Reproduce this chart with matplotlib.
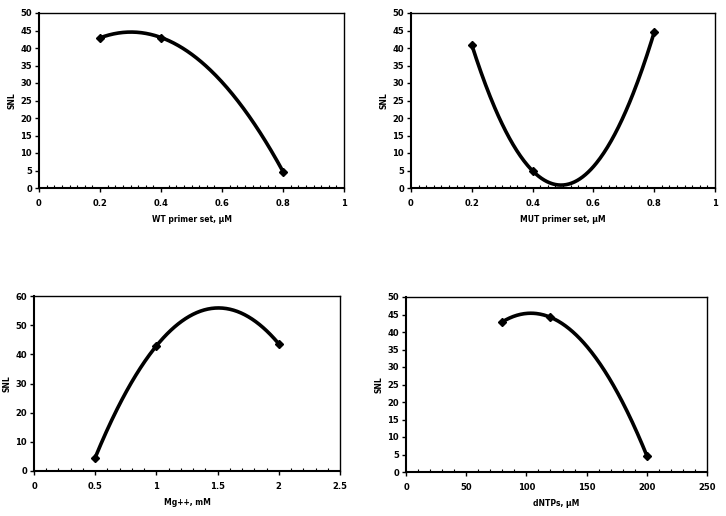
import numpy as np
import matplotlib
matplotlib.use("Agg")
import matplotlib.pyplot as plt
from matplotlib.ticker import MultipleLocator, FormatStrFormatter

plt.rcParams['font.family'] = ['DejaVu Sans']
plt.rcParams['font.weight'] = 'bold'

# Data
wt_x = [0.2, 0.4, 0.8]
wt_y = [42.9, 43.0, 4.7]
mut_x = [0.2, 0.4, 0.8]
mut_y = [40.9, 4.9, 44.5]
mg_x = [0.5, 1.0, 2.0]
mg_y = [4.6, 42.9, 43.6]
dntp_x = [80, 120, 200]
dntp_y = [42.9, 44.2, 4.7]

panels = [
    dict(x=wt_x, y=wt_y, xlabel="WT primer set, µM", xlim=(0, 1), xmaj=0.2, xmin=0.025,
         ylim=(0, 50), ymaj=5, rect=[39/726, 1-188/516, 305/726, 175/516]),
    dict(x=mut_x, y=mut_y, xlabel="MUT primer set, µM", xlim=(0, 1), xmaj=0.2, xmin=0.025,
         ylim=(0, 50), ymaj=5, rect=[411/726, 1-188/516, 304/726, 175/516]),
    dict(x=mg_x, y=mg_y, xlabel="Mg++, mM", xlim=(0, 2.5), xmaj=0.5, xmin=0.1,
         ylim=(0, 60), ymaj=10, rect=[34/726, 1-471/516, 306/726, 175/516]),
    dict(x=dntp_x, y=dntp_y, xlabel="dNTPs, µM", xlim=(0, 250), xmaj=50, xmin=10,
         ylim=(0, 50), ymaj=5, rect=[406/726, 1-472/516, 301/726, 175/516]),
]

fig = plt.figure(figsize=(7.26, 5.16), dpi=100)

for p in panels:
    ax = fig.add_axes(p['rect'])
    x = np.array(p['x'], dtype=float)
    y = np.array(p['y'], dtype=float)
    coef = np.polyfit(x, y, 2)
    xs = np.linspace(x.min(), x.max(), 200)
    ax.plot(xs, np.polyval(coef, xs), color='black', lw=2.6, solid_capstyle='round')
    ax.plot(x, y, linestyle='none', marker='D', color='black', markersize=4.5)
    ax.set_xlim(*p['xlim'])
    ax.set_ylim(*p['ylim'])
    ax.xaxis.set_major_locator(MultipleLocator(p['xmaj']))
    ax.xaxis.set_minor_locator(MultipleLocator(p['xmin']))
    ax.yaxis.set_major_locator(MultipleLocator(p['ymaj']))
    ax.xaxis.set_major_formatter(FormatStrFormatter('%g'))
    ax.yaxis.set_major_formatter(FormatStrFormatter('%g'))
    ax.tick_params(axis='both', which='major', direction='out', length=3, width=1,
                   labelsize=6, pad=2)
    ax.tick_params(axis='x', which='major', pad=5)
    ax.tick_params(axis='x', which='minor', direction='in', length=2.5, width=0.8)
    for lab in ax.get_xticklabels() + ax.get_yticklabels():
        lab.set_fontweight('bold')
    for s in ax.spines.values():
        s.set_linewidth(1.0)
    ax.spines['left'].set_linewidth(1.5)
    ax.spines['bottom'].set_linewidth(1.5)
    ax.set_xlabel(p['xlabel'], fontsize=5.5, fontweight='bold', labelpad=5)
    ax.set_ylabel("SNL", fontsize=5.5, fontweight='bold', labelpad=3)

fig.savefig("out.png", dpi=100)
